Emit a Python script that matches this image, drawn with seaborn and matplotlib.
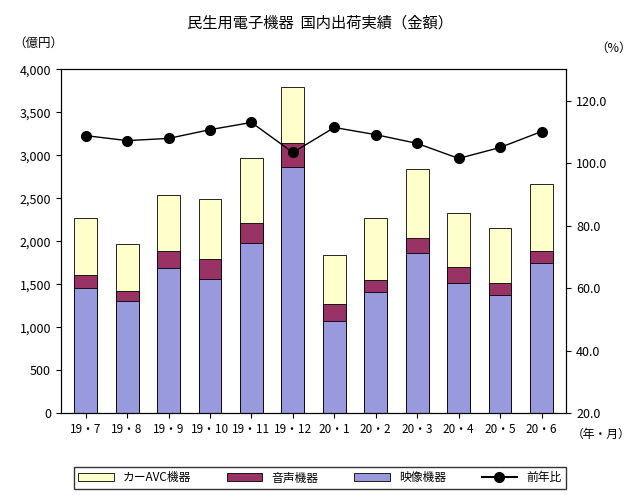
import matplotlib.pyplot as plt
import numpy as np
import seaborn as sns
from matplotlib.lines import Line2D
from matplotlib.patches import Patch

plt.rcParams["font.family"] = "Noto Sans CJK JP"

months = ["19・7", "19・8", "19・9", "19・10", "19・11", "19・12",
          "20・1", "20・2", "20・3", "20・4", "20・5", "20・6"]
video = [1453, 1302, 1686, 1558, 1977, 2860, 1070, 1407, 1860, 1512, 1372, 1744]
audio = [152, 117, 198, 232, 232, 280, 197, 140, 175, 186, 140, 140]
car_avc = [662, 546, 651, 698, 756, 651, 570, 720, 802, 628, 639, 779]
yoy = [108.8, 107.2, 107.9, 110.7, 113.0, 103.4, 111.4, 109.1, 106.3, 101.5, 105.0, 110.1]

C_VIDEO = "#9999DD"
C_AUDIO = "#993366"
C_CAR = "#FFFFCC"

video_a = np.array(video)
audio_top = video_a + np.array(audio)
total = audio_top + np.array(car_avc)

fig, ax = plt.subplots(figsize=(6.4, 4.95), dpi=100)
fig.subplots_adjust(left=0.095, right=0.885, top=0.86, bottom=0.165)

# 積み上げ棒: 上から順に描く
sns.barplot(x=months, y=total, color=C_CAR, edgecolor="black", linewidth=0.6,
            width=0.55, ax=ax, saturation=1)
sns.barplot(x=months, y=audio_top, color=C_AUDIO, edgecolor="black", linewidth=0.6,
            width=0.55, ax=ax, saturation=1)
sns.barplot(x=months, y=video_a, color=C_VIDEO, edgecolor="black", linewidth=0.6,
            width=0.55, ax=ax, saturation=1)

ax.set_ylim(0, 4000)
ax.set_yticks(range(0, 4001, 500))
ax.set_yticklabels([f"{v:,}" for v in range(0, 4001, 500)], fontsize=9)
ax.tick_params(axis="x", labelsize=8.5)
ax.set_xlim(-0.6, 11.6)
ax.set_xlabel("")

ax2 = ax.twinx()
ax2.plot(range(len(months)), yoy, color="black", marker="o", markersize=7, linewidth=1)
ax2.set_ylim(20, 130)
ax2.set_yticks(range(20, 121, 20))
ax2.set_yticklabels([f"{v:.1f}" for v in range(20, 121, 20)], fontsize=9)

fig.text(0.5, 0.945, "民生用電子機器  国内出荷実績（金額）", ha="center", fontsize=11)
fig.text(0.02, 0.905, "（億円）", fontsize=9)
fig.text(0.93, 0.895, "（%）", fontsize=9)
fig.text(0.985, 0.115, "（年・月）", fontsize=8.5, ha="right")

handles = [Patch(facecolor=C_CAR, edgecolor="black", linewidth=0.6, label="カーAVC機器"),
           Patch(facecolor=C_AUDIO, edgecolor="black", linewidth=0.6, label="音声機器"),
           Patch(facecolor=C_VIDEO, edgecolor="black", linewidth=0.6, label="映像機器"),
           Line2D([], [], color="black", marker="o", markersize=7, label="前年比")]
leg = fig.legend(handles=handles, loc="lower center", ncol=4, bbox_to_anchor=(0.5, 0.0),
                 fontsize=8.5, frameon=True, fancybox=False, edgecolor="black",
                 columnspacing=3, handlelength=3)

fig.savefig("out.png", dpi=100)
